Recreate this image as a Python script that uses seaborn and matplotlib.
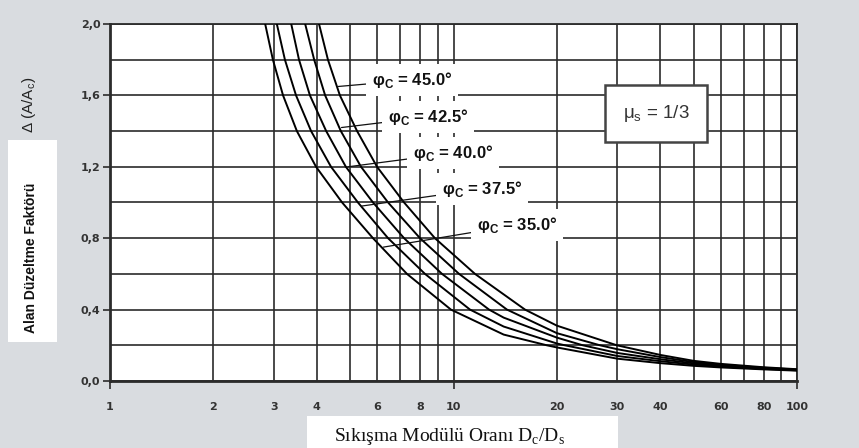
import matplotlib
matplotlib.use("Agg")
import matplotlib.pyplot as plt
import seaborn as sns
import pandas as pd
from matplotlib.patches import Rectangle
from matplotlib.ticker import FixedLocator, FixedFormatter

# ---------------- data ----------------
PHI_LABELS = ["35.0", "37.5", "40.0", "42.5", "45.0"]

X_35 = [2.83, 2.98, 3.19, 3.50, 3.98, 4.74, 5.83, 7.32, 9.83, 14.0, 18.7, 20, 30, 40, 50, 60, 80, 100]
Y_35 = [2.0, 1.8, 1.6, 1.4, 1.2, 1.0, 0.8, 0.6, 0.4, 0.26, 0.2, 0.188, 0.125, 0.100, 0.085, 0.076, 0.065, 0.058]

X_375 = [3.06, 3.23, 3.48, 3.85, 4.40, 5.27, 6.45, 8.26, 11.17, 14.0, 20, 21.1, 30, 40, 50, 60, 80, 100]
Y_375 = [2.0, 1.8, 1.6, 1.4, 1.2, 1.0, 0.8, 0.6, 0.4, 0.305, 0.21, 0.2, 0.140, 0.111, 0.092, 0.081, 0.068, 0.060]

X_40 = [3.37, 3.55, 3.82, 4.26, 4.86, 5.83, 7.18, 9.26, 12.69, 14.0, 20, 23.8, 30, 40, 50, 60, 80, 100]
Y_40 = [2.0, 1.8, 1.6, 1.4, 1.2, 1.0, 0.8, 0.6, 0.4, 0.355, 0.243, 0.2, 0.157, 0.122, 0.099, 0.086, 0.071, 0.062]

X_425 = [3.70, 3.93, 4.23, 4.70, 5.38, 6.45, 7.99, 10.38, 14.31, 20, 26.7, 30, 40, 50, 60, 80, 100]
Y_425 = [2.0, 1.8, 1.6, 1.4, 1.2, 1.0, 0.8, 0.6, 0.4, 0.268, 0.2, 0.178, 0.134, 0.106, 0.091, 0.074, 0.064]

X_45 = [4.06, 4.31, 4.67, 5.24, 5.99, 7.18, 8.83, 11.55, 16.15, 20, 29.9, 40, 50, 60, 80, 100]
Y_45 = [2.0, 1.8, 1.6, 1.4, 1.2, 1.0, 0.8, 0.6, 0.4, 0.31, 0.2, 0.146, 0.113, 0.096, 0.077, 0.066]

X_TICKS_MAJOR = [1, 10, 100]
X_TICKS_MINOR = [2, 3, 4, 5, 6, 7, 8, 9, 20, 30, 40, 50, 60, 70, 80, 90]
X_MINOR_LABELS = ["2", "3", "4", "", "6", "", "8", "", "20", "30", "40", "", "60", "", "80", ""]
Y_TICKS_MAJOR = [0.0, 0.4, 0.8, 1.2, 1.6, 2.0]
Y_TICKS_MINOR = [0.2, 0.6, 1.0, 1.4, 1.8]
Y_LABELS = ["0,0", "0,4", "0,8", "1,2", "1,6", "2,0"]

MU_TEXT = "1/3"

curves = [(X_35, Y_35), (X_375, Y_375), (X_40, Y_40), (X_425, Y_425), (X_45, Y_45)]
frames = []
for lab, (xs, ys) in zip(PHI_LABELS, curves):
    frames.append(pd.DataFrame({"ratio": xs, "delta": ys, "phi": lab}))
df = pd.concat(frames, ignore_index=True)

# ---------------- figure ----------------
BG = "#d9dce0"
W, H = 859, 448
fig = plt.figure(figsize=(W / 100, H / 100), dpi=100, facecolor=BG)
ax = fig.add_axes([110 / W, 1 - 381 / H, 687 / W, 357 / H])
ax.set_facecolor("white")

ax.set_xscale("log")
ax.set_xlim(1, 100)
ax.set_ylim(0, 2.0)

sns.lineplot(data=df, x="ratio", y="delta", hue="phi", palette=["black"] * 5,
             sort=False, estimator=None, legend=False, linewidth=1.4, ax=ax, zorder=3)
for ln in ax.get_lines():
    ln.set_solid_joinstyle("round")

GRID_C = "#2b2b2b"
ax.xaxis.set_major_locator(FixedLocator(X_TICKS_MAJOR))
ax.xaxis.set_major_formatter(FixedFormatter([str(v) for v in X_TICKS_MAJOR]))
ax.xaxis.set_minor_locator(FixedLocator(X_TICKS_MINOR))
ax.xaxis.set_minor_formatter(FixedFormatter(X_MINOR_LABELS))
ax.yaxis.set_major_locator(FixedLocator(Y_TICKS_MAJOR))
ax.yaxis.set_major_formatter(FixedFormatter(Y_LABELS))
ax.yaxis.set_minor_locator(FixedLocator(Y_TICKS_MINOR))

ax.grid(True, which="both", color=GRID_C, linewidth=1.2, zorder=1)
ax.set_axisbelow(True)

ax.tick_params(axis="x", which="major", length=6, width=1.2, pad=9, colors=GRID_C,
               labelsize=8)
ax.tick_params(axis="x", which="minor", length=0, pad=15, colors=GRID_C, labelsize=8)
ax.tick_params(axis="y", which="major", length=5, width=1.2, pad=2, colors=GRID_C,
               labelsize=8)
ax.tick_params(axis="y", which="minor", length=0)
for lbl in ax.get_xticklabels(which="both") + ax.get_yticklabels():
    lbl.set_fontfamily("DejaVu Sans")
    lbl.set_fontweight("bold")
    lbl.set_color("#333333")

for s in ax.spines.values():
    s.set_color(GRID_C)
    s.set_linewidth(1.3)
ax.spines["left"].set_linewidth(2.0)
ax.spines["bottom"].set_linewidth(2.0)

ax.set_xlabel("")
ax.set_ylabel("")

# ---------------- curve labels ----------------
label_pos = {  # (anchor on curve) -> (text left edge)
    "45.0": ((4.62, 1.65), (5.79, 1.686)),
    "42.5": ((4.72, 1.42), (6.45, 1.479)),
    "40.0": ((4.93, 1.20), (7.62, 1.277)),
    "37.5": ((5.40, 0.98), (9.26, 1.076)),
    "35.0": ((6.25, 0.75), (11.70, 0.874)),
}
for lab in PHI_LABELS:
    xy, xyt = label_pos[lab]
    ax.annotate("φ$_\\mathregular{C}$ = " + lab + "°", xy=xy, xytext=xyt,
                ha="left", va="center", fontsize=12, fontweight="bold",
                family="Liberation Sans", color="#111111", zorder=5,
                bbox=dict(boxstyle="square,pad=0.35", fc="white", ec="none"),
                arrowprops=dict(arrowstyle="-", color="#111111", lw=0.9,
                                shrinkA=0, shrinkB=0))

ax.text(38.9, 1.50, "μ$_\\mathregular{s}$ = " + MU_TEXT, ha="center", va="center",
        fontsize=13.5, family="Liberation Sans", color="#333333", zorder=6,
        bbox=dict(boxstyle="square,pad=0.95", fc="white", ec="#444444", lw=1.8))

# ---------------- axis titles ----------------
fig.add_artist(Rectangle((8 / W, 1 - 342 / H), 49 / W, 202 / H,
                         transform=fig.transFigure, fc="white", ec="none", zorder=0))
fig.text(31 / W, 1 - 258 / H, "Alan Düzeltme Faktörü", rotation=90, ha="center",
         va="center", fontsize=10, fontweight="bold", family="Liberation Sans",
         color="#111111")
fig.text(29 / W, 1 - 105 / H, "Δ (A/A$_\\mathregular{c}$)", rotation=90, ha="center",
         va="center", fontsize=11, family="Liberation Sans", color="#222222")

fig.add_artist(Rectangle((307 / W, 0), 311 / W, 32 / H,
                         transform=fig.transFigure, fc="white", ec="none", zorder=0))
fig.text(450 / W, 1 - 436 / H, "Sıkışma Modülü Oranı D$_\\mathregular{c}$/D$_\\mathregular{s}$",
         ha="center", va="center", fontsize=14, family="Liberation Serif",
         color="#111111")

fig.savefig("out.png", dpi=100, facecolor=BG)
